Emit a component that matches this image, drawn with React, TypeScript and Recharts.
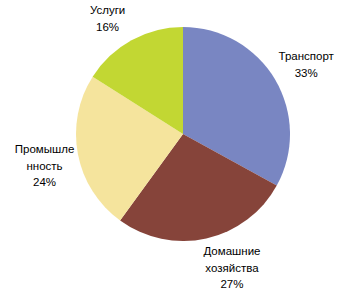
import { Cell, Pie, PieChart } from 'recharts';

const categories = ['Транспорт', 'Домашние хозяйства', 'Промышленность', 'Услуги'];
const labelLines = [['Транспорт'], ['Домашние', 'хозяйства'], ['Промышле', 'нность'], ['Услуги']];
const shares = [33, 27, 24, 16];

const colors = ['#7986c2', '#86443a', '#f5e49d', '#c2d733'];
// small hand nudges so labels sit where the original put them
const labelNudge = [
  [1, 3],
  [18, -5],
  [1, 5],
  [-7, 9],
];

const data = categories.map((name, i) => ({ name, value: shares[i] }));

const RADIAN = Math.PI / 180;

function renderLabel(props: any) {
  const { cx, cy, midAngle, outerRadius, index, value } = props;
  const r = outerRadius + 35;
  const x = cx + r * Math.cos(-midAngle * RADIAN) + labelNudge[index][0];
  const y = cy + r * Math.sin(-midAngle * RADIAN) + labelNudge[index][1];
  const lines = [...labelLines[index], `${value}%`];
  const lh = 16.5;
  const top = y - ((lines.length - 1) * lh) / 2;
  return (
    <text
      x={x}
      y={top}
      textAnchor="middle"
      dominantBaseline="central"
      fill="#000"
      fontSize={11.5}
      fontFamily="'Liberation Sans', Arial, sans-serif"
    >
      {lines.map((t, i) => (
        <tspan key={i} x={x} y={top + i * lh}>
          {t}
        </tspan>
      ))}
    </text>
  );
}

export default function App() {
  return (
    <div style={{ width: 350, height: 297, background: '#fff' }}>
      <style>{'body{margin:0}'}</style>
      <PieChart width={350} height={297} margin={{ top: 0, right: 0, bottom: 0, left: 0 }}>
        <Pie
          data={data}
          dataKey="value"
          nameKey="name"
          cx={183}
          cy={134}
          outerRadius={107}
          startAngle={90}
          endAngle={-270}
          stroke="none"
          label={renderLabel}
          labelLine={false}
          isAnimationActive={false}
        >
          {data.map((d, i) => (
            <Cell key={d.name} fill={colors[i]} />
          ))}
        </Pie>
      </PieChart>
    </div>
  );
}
